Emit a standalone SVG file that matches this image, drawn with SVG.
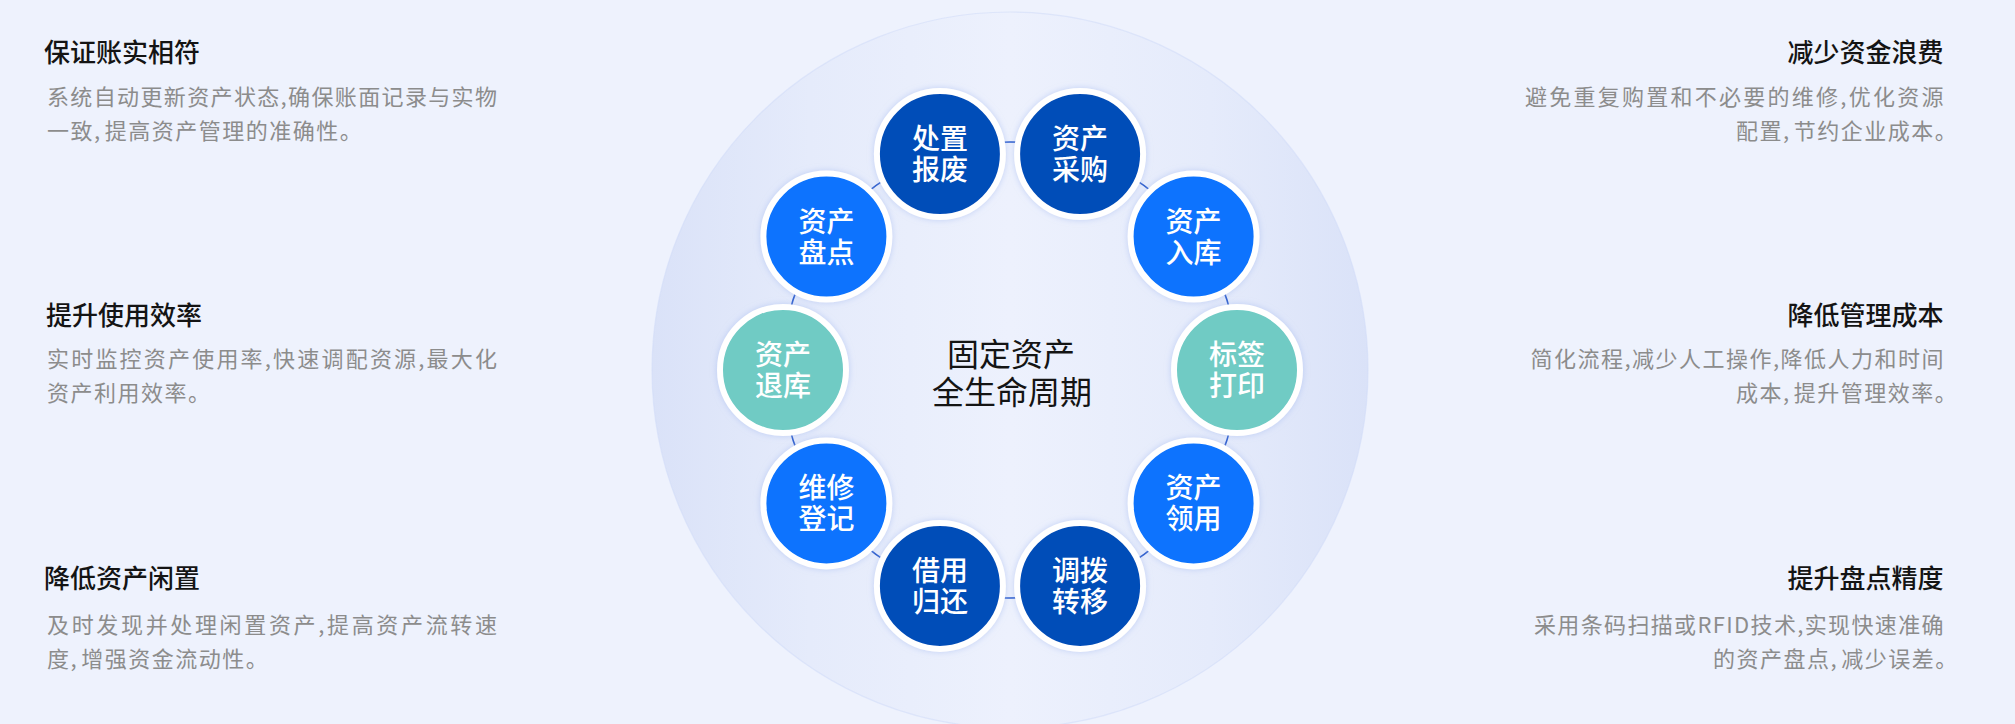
<svg xmlns="http://www.w3.org/2000/svg" width="2015" height="724" viewBox="0 0 2015 724">
  <defs>
    <linearGradient id="bigGrad" x1="0" y1="0" x2="1" y2="0">
      <stop offset="0" stop-color="#DAE2F8"/>
      <stop offset="0.22" stop-color="#E5EBFB"/>
      <stop offset="0.5" stop-color="#EDF1FD"/>
      <stop offset="0.78" stop-color="#E5EBFB"/>
      <stop offset="1" stop-color="#DAE2F8"/>
    </linearGradient>
    <filter id="glow" x="-30%" y="-30%" width="160%" height="160%">
      <feDropShadow dx="0" dy="0" stdDeviation="3" flood-color="#9FB5EE" flood-opacity="0.55"/>
    </filter>
  </defs>
  <style>
    .title { font-family: "Noto Sans CJK SC", "Noto Sans", sans-serif; font-size: 26px; font-weight: 500; fill: #141414; }
    .desc { font-family: "Noto Sans CJK SC", "Noto Sans", sans-serif; font-size: 22px; fill: #8C8C8C; letter-spacing: 1.5px; }
    .desc.full { letter-spacing: 0; }
    .center { font-family: "Noto Sans CJK SC", "Noto Sans", sans-serif; font-size: 32px; fill: #141414; text-anchor: middle; }
    .nlabel { font-family: "Noto Sans CJK SC", "Noto Sans", sans-serif; font-size: 28px; font-weight: 500; fill: #FFFFFF; text-anchor: middle; }
    .node { stroke: #FFFFFF; stroke-width: 6; filter: url(#glow); }
    .dark { fill: #054DB8; }
    .bright { fill: #0B73FE; }
    .teal { fill: #6FCBC4; }
    .conn { fill: none; stroke: #2D5DCC; stroke-width: 1.6; }
  </style>

  <rect x="0" y="0" width="2015" height="724" fill="#EEF2FD"/>

  <circle id="backdrop" cx="1010" cy="370" r="358" fill="url(#bigGrad)" stroke="#CFDAF7" stroke-opacity="0.55" stroke-width="1.2"/>

  <g id="connectors">
    <path class="conn" d="M1231.23 425.16 A228 228 0 0 1 1221.40 455.41"/>
    <path class="conn" d="M1156.56 544.66 A228 228 0 0 1 1130.82 563.36"/>
    <path class="conn" d="M1025.91 597.44 A228 228 0 0 1 994.09 597.44"/>
    <path class="conn" d="M889.18 563.36 A228 228 0 0 1 863.44 544.66"/>
    <path class="conn" d="M798.60 455.41 A228 228 0 0 1 788.77 425.16"/>
    <path class="conn" d="M788.77 314.84 A228 228 0 0 1 798.60 284.59"/>
    <path class="conn" d="M863.44 195.34 A228 228 0 0 1 889.18 176.64"/>
    <path class="conn" d="M994.09 142.56 A228 228 0 0 1 1025.91 142.56"/>
    <path class="conn" d="M1130.82 176.64 A228 228 0 0 1 1156.56 195.34"/>
    <path class="conn" d="M1221.40 284.59 A228 228 0 0 1 1231.23 314.84"/>
  </g>

  <g id="node-label-print">
    <circle class="node teal" cx="1237" cy="370" r="63"/>
    <text class="nlabel" x="1237" y="365">标签<tspan x="1237" dy="31">打印</tspan></text>
  </g>
  <g id="node-asset-receive">
    <circle class="node bright" cx="1193.6" cy="503.4" r="63"/>
    <text class="nlabel" x="1193.6" y="498.4">资产<tspan x="1193.6" dy="31">领用</tspan></text>
  </g>
  <g id="node-transfer">
    <circle class="node dark" cx="1080.1" cy="585.9" r="63"/>
    <text class="nlabel" x="1080.1" y="580.9">调拨<tspan x="1080.1" dy="31">转移</tspan></text>
  </g>
  <g id="node-borrow-return">
    <circle class="node dark" cx="939.9" cy="585.9" r="63"/>
    <text class="nlabel" x="939.9" y="580.9">借用<tspan x="939.9" dy="31">归还</tspan></text>
  </g>
  <g id="node-repair">
    <circle class="node bright" cx="826.4" cy="503.4" r="63"/>
    <text class="nlabel" x="826.4" y="498.4">维修<tspan x="826.4" dy="31">登记</tspan></text>
  </g>
  <g id="node-asset-return">
    <circle class="node teal" cx="783" cy="370" r="63"/>
    <text class="nlabel" x="783" y="365">资产<tspan x="783" dy="31">退库</tspan></text>
  </g>
  <g id="node-inventory">
    <circle class="node bright" cx="826.4" cy="236.6" r="63"/>
    <text class="nlabel" x="826.4" y="231.6">资产<tspan x="826.4" dy="31">盘点</tspan></text>
  </g>
  <g id="node-disposal">
    <circle class="node dark" cx="939.9" cy="154.1" r="63"/>
    <text class="nlabel" x="939.9" y="149.1">处置<tspan x="939.9" dy="31">报废</tspan></text>
  </g>
  <g id="node-purchase">
    <circle class="node dark" cx="1080.1" cy="154.1" r="63"/>
    <text class="nlabel" x="1080.1" y="149.1">资产<tspan x="1080.1" dy="31">采购</tspan></text>
  </g>
  <g id="node-warehousing">
    <circle class="node bright" cx="1193.6" cy="236.6" r="63"/>
    <text class="nlabel" x="1193.6" y="231.6">资产<tspan x="1193.6" dy="31">入库</tspan></text>
  </g>

  <g id="center-title">
    <text class="center" x="1011" y="366">固定资产<tspan x="1012" dy="38">全生命周期</tspan></text>
  </g>

  <g id="left-benefits">
    <text class="title" x="44" y="61.6">保证账实相符</text>
    <text class="desc full" x="47" y="105.4" textLength="450" lengthAdjust="spacing">系统自动更新资产状态,确保账面记录与实物</text>
    <text class="desc" x="47" y="139.4">一致,<tspan dx="3">提高资产管理的准确性。</tspan></text>

    <text class="title" x="46" y="324.6">提升使用效率</text>
    <text class="desc full" x="47" y="366.7" textLength="450" lengthAdjust="spacing">实时监控资产使用率,快速调配资源,最大化</text>
    <text class="desc" x="47" y="401.4">资产利用效率。</text>

    <text class="title" x="44" y="588">降低资产闲置</text>
    <text class="desc full" x="47" y="633.1" textLength="450" lengthAdjust="spacing">及时发现并处理闲置资产,提高资产流转速</text>
    <text class="desc" x="47" y="667.4">度,<tspan dx="3">增强资金流动性。</tspan></text>
  </g>

  <g id="right-benefits">
    <text class="title" x="1943.5" y="61.6" text-anchor="end">减少资金浪费</text>
    <text class="desc full" x="1525" y="105.4" textLength="418.5" lengthAdjust="spacing">避免重复购置和不必要的维修,优化资源</text>
    <text class="desc" x="1736" y="139.4">配置,<tspan dx="3">节约企业成本。</tspan></text>

    <text class="title" x="1943.5" y="324.6" text-anchor="end">降低管理成本</text>
    <text class="desc full" x="1530.5" y="366.7" textLength="413" lengthAdjust="spacing">简化流程,减少人工操作,降低人力和时间</text>
    <text class="desc" x="1736" y="401.4">成本,<tspan dx="3">提升管理效率。</tspan></text>

    <text class="title" x="1943.5" y="588" text-anchor="end">提升盘点精度</text>
    <text class="desc full" x="1534" y="633.1" textLength="409.5" lengthAdjust="spacing">采用条码扫描或RFID技术,实现快速准确</text>
    <text class="desc" x="1713" y="667.4">的资产盘点,<tspan dx="3">减少误差。</tspan></text>
  </g>
</svg>
